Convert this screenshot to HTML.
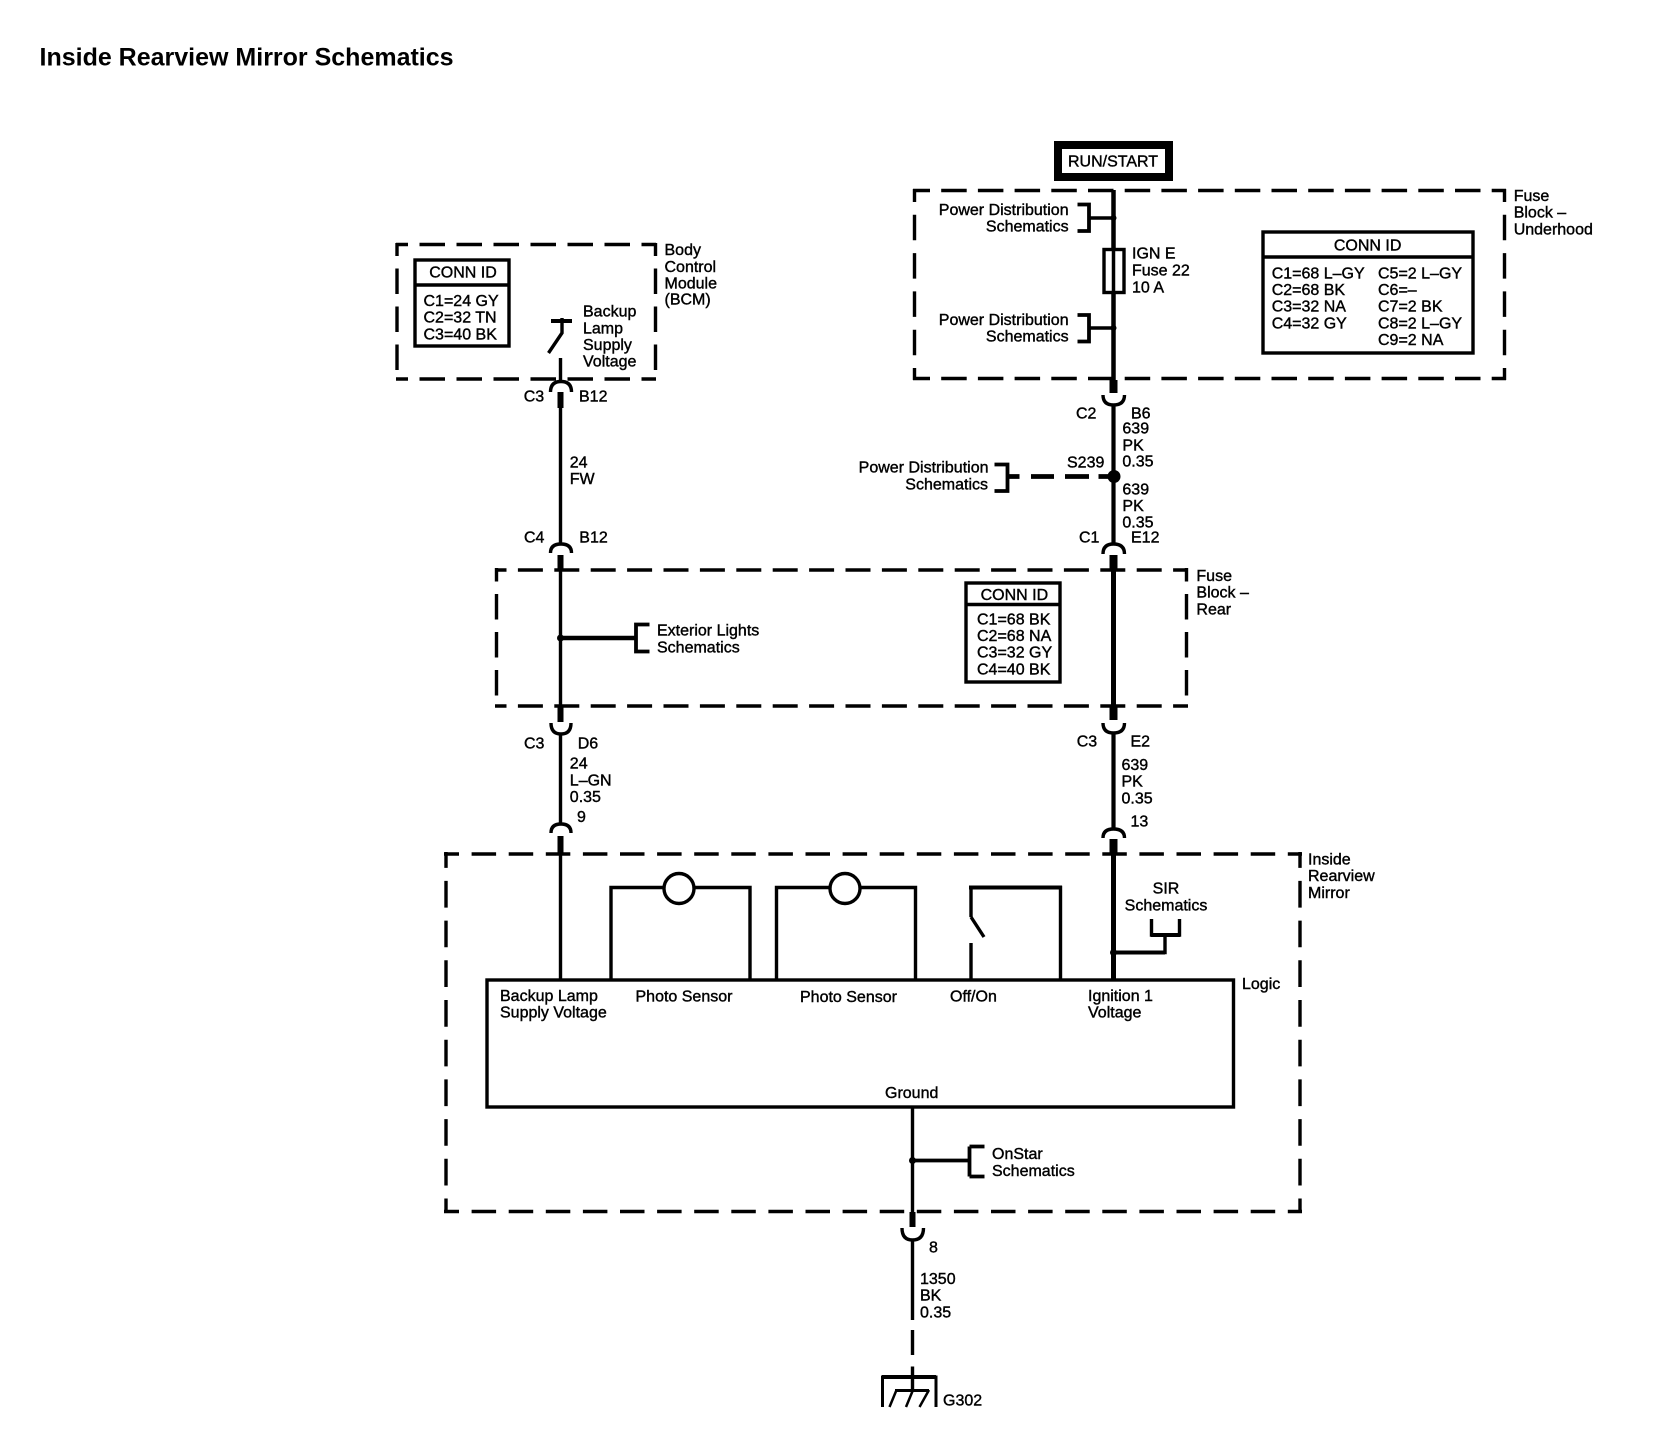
<!DOCTYPE html>
<html><head><meta charset="utf-8"><title>Inside Rearview Mirror Schematics</title>
<style>
html,body{margin:0;padding:0;background:#fff}
svg{display:block}
text{font-family:"Liberation Sans",sans-serif;font-size:16px;fill:#000;stroke:#000;stroke-width:.4px}
.e{text-anchor:end}.m{text-anchor:middle}
</style></head><body>
<svg width="1654" height="1456" viewBox="0 0 1654 1456" xmlns="http://www.w3.org/2000/svg">
<rect width="1654" height="1456" fill="#fff"/>
<text x="39.500" y="65.500" style="font-size:25px;font-weight:bold;stroke-width:0">Inside Rearview Mirror Schematics</text>

<g fill="none" stroke="#000" stroke-width="3.400">
<!-- BCM dashed -->
<g stroke-dasharray="25.500 11.500"><path stroke-dashoffset="13.500" d="M396 244.500H656"/><path stroke-dashoffset="13.500" d="M396 379H656"/></g>
<g stroke-dasharray="25.500 12.500"><path stroke-dashoffset="12.500" d="M397 243V380.500"/><path stroke-dashoffset="12.500" d="M655.500 243V380.500"/></g>
<!-- underhood dashed -->
<g stroke-dasharray="25.500 11.200"><path stroke-dashoffset="8.500" d="M913 190.500H1506"/><path stroke-dashoffset="8.500" d="M913 378.500H1506"/></g>
<g stroke-dasharray="25.500 12.800"><path stroke-dashoffset="12.500" d="M914.500 189V380"/><path stroke-dashoffset="12.500" d="M1504.500 189V380"/></g>
<!-- rear dashed -->
<g stroke-dasharray="25 11.400"><path stroke-dashoffset="13.500" d="M495 570H1188"/><path stroke-dashoffset="13.500" d="M495 706H1188"/></g>
<g stroke-dasharray="25.500 12.500"><path stroke-dashoffset="12" d="M496.500 568V707.500"/><path stroke-dashoffset="12" d="M1186.500 568V707.500"/></g>
<!-- mirror dashed -->
<g stroke-dasharray="24.500 12.600"><path stroke-dashoffset="9.500" d="M444 854H1302"/><path stroke-dashoffset="9.500" d="M444 1211.500H1302"/></g>
<g stroke-dasharray="26.700 13"><path stroke-dashoffset="10.800" d="M446 852V1213"/><path stroke-dashoffset="10.800" d="M1300 852V1213"/></g>

<!-- Conn ID boxes -->
<rect x="415" y="260" width="94" height="86"/><path d="M415 285H509"/>
<rect x="1263" y="232" width="210" height="121"/><path d="M1263 257H1473"/>
<rect x="966" y="583" width="94" height="99"/><path d="M966 604.500H1060"/>

<!-- RUN/START -->
<rect x="1058" y="145" width="111" height="32" stroke-width="8"/>

<!-- left wire -->
<path d="M560.500 358V380"/>
<path d="M550.500 392Q550.500 381.500 561 381.500Q571.500 381.500 571.500 392"/>
<path d="M560.500 392V408" stroke-width="6"/>
<path d="M560.500 408V543"/>
<path d="M550.500 553Q550.500 544 561 544Q571.500 544 571.500 553"/>
<path d="M560.500 555V570" stroke-width="6"/>
<path d="M560.500 570V705"/>
<path d="M560.500 705V722" stroke-width="6"/>
<path d="M551 723Q551 734 561 734Q571 734 571 723"/>
<path d="M560.500 733V823"/>
<path d="M551 833Q551 824 561 824Q571 824 571 833"/>
<path d="M560.500 836V853" stroke-width="6"/>
<path d="M560.500 853V979"/>

<!-- right wire -->
<path d="M1113.500 190V380" stroke-width="4.500"/>
<path d="M1113.500 380V393" stroke-width="8"/>
<path d="M1103 395Q1103 405 1113.500 405Q1124.500 405 1124.500 395"/>
<path d="M1113.500 404V544" stroke-width="4.200"/>
<path d="M1103 554Q1103 544 1113.500 544Q1124.500 544 1124.500 554"/>
<path d="M1113.500 555V570" stroke-width="8"/>
<path d="M1113.500 570V705" stroke-width="5"/>
<path d="M1113.500 705V720" stroke-width="8"/>
<path d="M1103 723Q1103 733 1113.500 733Q1124.500 733 1124.500 723"/>
<path d="M1113.500 732V829" stroke-width="4.200"/>
<path d="M1103 838Q1103 829 1113.500 829Q1124.500 829 1124.500 838"/>
<path d="M1113.500 839V853" stroke-width="8"/>
<path d="M1113.500 853V979" stroke-width="5"/>

<!-- BCM switch -->
<path d="M551 321H572" stroke-width="4"/><path d="M562 318V333L548.500 353"/>

<!-- Power dist brackets -->
<path d="M1077.500 204.500H1089V231H1077.500" stroke-width="3.800"/><path d="M1089 218H1113"/>
<path d="M1077.500 315H1089V341.500H1077.500" stroke-width="3.800"/><path d="M1089 328H1113"/>
<circle cx="1113.500" cy="218" r="3" fill="#000" stroke="none"/>
<circle cx="1113.500" cy="328" r="3" fill="#000" stroke="none"/>
<rect x="1104" y="249.500" width="20" height="43" fill="#fff"/><path d="M1113.500 249V293" stroke-width="3.500"/>

<!-- S239 -->
<path d="M994.500 464.500H1007.500V491H994.500" stroke-width="3.800"/>
<path d="M1007 476.500H1019.500M1031 476.500H1054M1065 476.500H1089M1098.500 476.500H1114" stroke-width="4.800"/>
<circle cx="1114" cy="476.500" r="6.500" fill="#000" stroke="none"/>

<!-- exterior lights -->
<path d="M560.500 638H636" stroke-width="4.500"/>
<path d="M649.500 624.500H636V651.500H649.500" stroke-width="3.800"/>
<circle cx="560.500" cy="638" r="3.500" fill="#000" stroke="none"/>

<!-- logic box and modules -->
<path d="M611 979V887.500H750V979"/>
<path d="M776.500 979V887.500H915.500V979"/>
<circle cx="679" cy="888.500" r="15" fill="#fff"/>
<circle cx="845" cy="888.500" r="15" fill="#fff"/>
<path d="M971 917V887.500H1060.500V979" />
<path d="M969 887.500H1062" stroke-width="4"/>
<path d="M971 917L984 937"/>
<path d="M971 943V979"/>
<rect x="487" y="980" width="746.500" height="127"/>

<!-- SIR -->
<path d="M1151.500 919V935H1179.500V919M1165 935V952.500H1113.500"/>
<path d="M1151 935H1180" stroke-width="4"/>
<path d="M1165 952.500H1113.500" stroke-width="4"/>
<circle cx="1113.500" cy="952.500" r="3.500" fill="#000" stroke="none"/>

<!-- ground wire -->
<path d="M912.500 1107V1212"/>
<path d="M912.500 1212V1227" stroke-width="6"/>
<path d="M902 1228Q902 1240 912.500 1240Q923.500 1240 923.500 1228"/>
<path d="M912.500 1240V1320M912.500 1330V1355M912.500 1366.500V1390"/>
<path d="M969.500 1146.500V1176.500M969.500 1146.500H984.500M969.500 1176.500H984.500" stroke-width="3.800"/><path d="M912.500 1160.500H969.500" stroke-width="3.800"/>
<circle cx="912.500" cy="1160.500" r="3.500" fill="#000" stroke="none"/>
<path d="M882.500 1407V1377H936V1407" stroke-width="3"/>
<path d="M882 1377H936" stroke-width="4"/>
<path d="M895 1390.500H929" stroke-width="3"/>
<path d="M896.500 1390L889.500 1407M913 1390L906 1407M929 1390L919.500 1407" stroke-width="2.500"/>
</g>

<text x="1113" y="166.500" class="m">RUN/START</text>
<text x="463" y="277.500" class="m">CONN ID</text>
<text x="423.500" y="306">C1=24 GY</text><text x="423.500" y="322.700">C2=32 TN</text><text x="423.500" y="339.300">C3=40 BK</text>
<text x="664.500" y="255">Body</text><text x="664.500" y="272">Control</text><text x="664.500" y="288.700">Module</text><text x="664.500" y="304.500">(BCM)</text>
<text x="583" y="316.700">Backup</text><text x="583" y="333.300">Lamp</text><text x="583" y="350">Supply</text><text x="583" y="366.700">Voltage</text>
<text x="523.700" y="401.700">C3</text><text x="579" y="401.700">B12</text>
<text x="569.700" y="467.300">24</text><text x="569.700" y="484">FW</text>
<text x="524" y="542.700">C4</text><text x="579.300" y="542.700">B12</text>

<text x="1068.600" y="215" class="e">Power Distribution</text><text x="1068.600" y="231.700" class="e">Schematics</text>
<text x="1068.600" y="325" class="e">Power Distribution</text><text x="1068.600" y="341.700" class="e">Schematics</text>
<text x="1132" y="258.300">IGN E</text><text x="1132" y="275.700">Fuse 22</text><text x="1132" y="292.300">10 A</text>
<text x="1513.700" y="201">Fuse</text><text x="1513.700" y="217.700">Block –</text><text x="1513.700" y="234.300">Underhood</text>
<text x="1367.600" y="250.700" class="m">CONN ID</text>
<text x="1271.700" y="278.300">C1=68 L–GY</text><text x="1271.700" y="295">C2=68 BK</text><text x="1271.700" y="311.700">C3=32 NA</text><text x="1271.700" y="328.300">C4=32 GY</text>
<text x="1378" y="278.300">C5=2 L–GY</text><text x="1378" y="295">C6=–</text><text x="1378" y="311.700">C7=2 BK</text><text x="1378" y="328.300">C8=2 L–GY</text><text x="1378" y="345">C9=2 NA</text>

<text x="1076" y="418.300">C2</text><text x="1131" y="418.300">B6</text>
<text x="1122.400" y="433.300">639</text><text x="1122.400" y="450.700">PK</text><text x="1122.400" y="466.700">0.35</text>
<text x="1067" y="467.300">S239</text>
<text x="988.500" y="472.700" class="e">Power Distribution</text><text x="988" y="489.300" class="e">Schematics</text>
<text x="1122.400" y="494.300">639</text><text x="1122.400" y="511">PK</text><text x="1122.400" y="527.700">0.35</text>
<text x="1079" y="542.300">C1</text><text x="1131" y="542.300">E12</text>

<text x="1196.400" y="581">Fuse</text><text x="1196.400" y="597.700">Block –</text><text x="1196.400" y="614.300">Rear</text>
<text x="657" y="635.700">Exterior Lights</text><text x="657" y="652.300">Schematics</text>
<text x="1014.400" y="600" class="m">CONN ID</text>
<text x="977" y="624.300">C1=68 BK</text><text x="977" y="641">C2=68 NA</text><text x="977" y="657.700">C3=32 GY</text><text x="977" y="674.300">C4=40 BK</text>

<text x="524" y="748.700">C3</text><text x="577.700" y="748.700">D6</text>
<text x="569.800" y="768.700">24</text><text x="569.800" y="785.300">L–GN</text><text x="569.800" y="802">0.35</text><text x="577" y="822">9</text>
<text x="1076.700" y="746.700">C3</text><text x="1130.500" y="746.700">E2</text>
<text x="1121.500" y="770">639</text><text x="1121.500" y="786.700">PK</text><text x="1121.500" y="803.300">0.35</text><text x="1130.500" y="826.700">13</text>

<text x="1314.500" y="869.500" transform="translate(-6.500 -5)">Inside</text><text x="1308" y="881">Rearview</text><text x="1308" y="898">Mirror</text>
<text x="1166" y="893.300" class="m">SIR</text><text x="1166" y="910.700" class="m">Schematics</text>
<text x="1242" y="989">Logic</text>
<text x="500" y="1001">Backup Lamp</text><text x="500" y="1017.700">Supply Voltage</text>
<text x="635.500" y="1001.500">Photo Sensor</text><text x="800" y="1002">Photo Sensor</text>
<text x="950" y="1001.500">Off/On</text>
<text x="1088" y="1001">Ignition 1</text><text x="1088" y="1017.700">Voltage</text>
<text x="885" y="1098">Ground</text>
<text x="992" y="1159">OnStar</text><text x="992" y="1176">Schematics</text>
<text x="929" y="1252.300">8</text>
<text x="920" y="1284">1350</text><text x="920" y="1300.700">BK</text><text x="920" y="1317.300">0.35</text>
<text x="943" y="1405.700">G302</text>
</svg>
</body></html>
